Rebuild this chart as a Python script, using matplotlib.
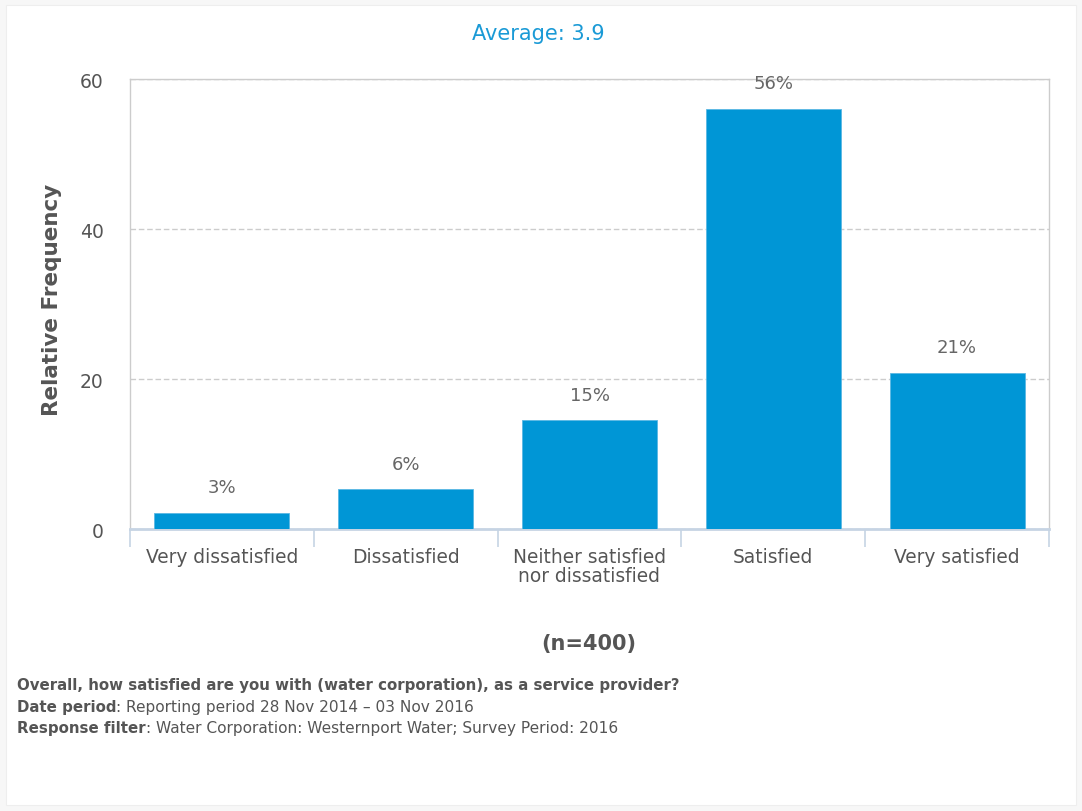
import matplotlib
matplotlib.use("Agg")
import matplotlib.pyplot as plt
from matplotlib.patches import Rectangle
import numpy as np

# --- data ---
categories = ["Very dissatisfied", "Dissatisfied", "Neither satisfied\nnor dissatisfied",
              "Satisfied", "Very satisfied"]
frequencies = [2.2, 5.3, 14.5, 56.0, 20.8]
bar_labels = ["3%", "6%", "15%", "56%", "21%"]
y_ticks = [0, 20, 40, 60]
title_text = "Average: 3.9"
n_text = "(n=400)"
question = "Overall, how satisfied are you with (water corporation), as a service provider?"
footer_rows = [("Date period", ": Reporting period 28 Nov 2014 \u2013 03 Nov 2016"),
               ("Response filter", ": Water Corporation: Westernport Water; Survey Period: 2016")]

BAR_COLOR = "#0096d6"
TEXT_GRAY = "#555555"
W, H = 1082, 812

plt.rcParams['font.family'] = ['DejaVu Sans']

fig = plt.figure(figsize=(W / 100, H / 100), dpi=100)
fig.patch.set_facecolor("#f7f7f7")
fig.add_artist(Rectangle((6 / W, 6 / H), 1 - 12 / W, 1 - 12 / H, transform=fig.transFigure,
                         facecolor="white", edgecolor="#eeeeee", lw=0.8, zorder=-10))

# plot area in pixels: x 130..1049, y 80..530
ax = fig.add_axes([130 / W, 1 - 530 / H, 919 / W, 450 / H])
x = np.arange(len(categories))
bars = ax.bar(x, frequencies, width=0.735, color=BAR_COLOR, edgecolor="#5bb8e4",
              linewidth=0.6, zorder=3)

for b, lab in zip(bars, bar_labels):
    ax.annotate(lab, (b.get_x() + b.get_width() / 2, b.get_height()),
                xytext=(0, 12), textcoords="offset points", ha="center", va="bottom",
                fontsize=13, color="#666666")

ax.set_xlim(-0.5, len(categories) - 0.5)
ax.set_ylim(0, 60)
ax.set_yticks(y_ticks)
ax.set_yticklabels([str(t) for t in y_ticks])
ax.yaxis.grid(True, color="#cccccc", linestyle=(0, (4, 2)), linewidth=1, zorder=0)
ax.set_axisbelow(True)

ax.set_xticks(x)
ax.set_xticklabels(categories, linespacing=1.0)
ax.set_xticks(np.arange(len(categories) + 1) - 0.5, minor=True)
ax.tick_params(axis="x", which="major", length=0, pad=13, labelsize=13.4, labelcolor=TEXT_GRAY)
ax.tick_params(axis="x", which="minor", length=13, width=1.2, color="#c6d4e4")
ax.tick_params(axis="y", length=0, pad=19, labelsize=13.5, labelcolor=TEXT_GRAY)

for side in ["left", "right", "top"]:
    ax.spines[side].set_color("#cccccc")
    ax.spines[side].set_linewidth(1)
ax.spines["bottom"].set_color("#c6d4e4")
ax.spines["bottom"].set_linewidth(2)

fig.text(52 / W, 1 - 300 / H, "Relative Frequency", rotation=90, ha="center", va="center",
         fontsize=15.5, fontweight="bold", color=TEXT_GRAY)

fig.text(538 / W, 1 - 34 / H, title_text, ha="center", va="center", fontsize=15,
         color="#1a9ad6")

fig.text(589 / W, 1 - 644 / H, n_text, ha="center", va="center", fontsize=15,
         fontweight="bold", color=TEXT_GRAY)

# footer lines, bold part then normal part
fx = 17 / W
FS = 10.8
fig.text(fx, 1 - 686 / H, question, ha="left", va="center", fontsize=FS,
         fontweight="bold", color=TEXT_GRAY)
for i, (bold_part, rest) in enumerate(footer_rows):
    yy = 1 - (707.5 + 21.5 * i) / H
    t = fig.text(fx, yy, bold_part, ha="left", va="center", fontsize=FS,
                 fontweight="bold", color=TEXT_GRAY)
    fig.add_artist(plt.Annotation(rest, xy=(1, 0.5), xycoords=t, ha="left", va="center",
                                  fontsize=FS + 0.3, color=TEXT_GRAY))

fig.savefig("out.png", dpi=100, facecolor=fig.get_facecolor())
